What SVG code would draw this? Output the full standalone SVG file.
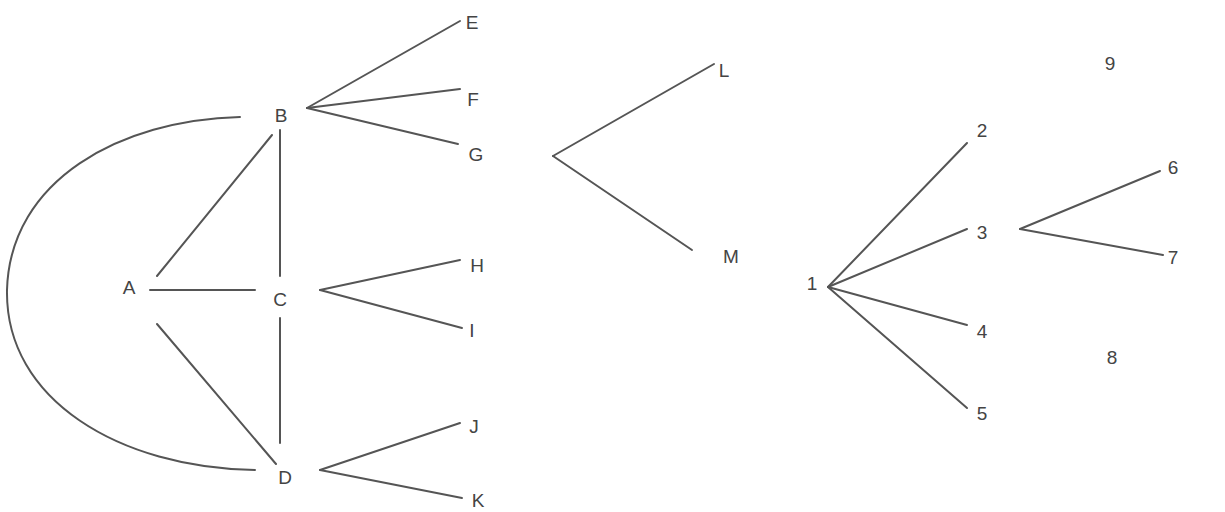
<svg xmlns="http://www.w3.org/2000/svg" width="1225" height="512" viewBox="0 0 1225 512">
<style>
.e{stroke:#555;stroke-width:2;fill:none;stroke-linecap:round}
text{font-family:"Liberation Sans",Arial,sans-serif;font-size:19px;fill:#444;text-anchor:middle}
</style>
<rect width="1225" height="512" fill="#fff"/>
<g id="connectors">
<path class="e" d="M240,117 C120,120 10,180 7,290 C5,400 120,468 255,470"/>
<line class="e" x1="157" y1="276" x2="272" y2="135"/>
<line class="e" x1="280" y1="130" x2="280" y2="276"/>
<line class="e" x1="280" y1="318" x2="280" y2="443"/>
<line class="e" x1="150" y1="290" x2="255" y2="290"/>
<line class="e" x1="157" y1="324" x2="276" y2="464"/>
<line class="e" x1="307" y1="108" x2="460" y2="21"/>
<line class="e" x1="307" y1="108" x2="460" y2="89"/>
<line class="e" x1="307" y1="108" x2="458" y2="144"/>
<line class="e" x1="320" y1="290" x2="460" y2="260"/>
<line class="e" x1="320" y1="290" x2="462" y2="328"/>
<line class="e" x1="320" y1="470" x2="460" y2="423"/>
<line class="e" x1="320" y1="470" x2="462" y2="498"/>
<line class="e" x1="553" y1="156" x2="714" y2="64"/>
<line class="e" x1="553" y1="156" x2="692" y2="250"/>
<line class="e" x1="828" y1="287" x2="967" y2="143"/>
<line class="e" x1="828" y1="287" x2="967" y2="229"/>
<line class="e" x1="828" y1="287" x2="967" y2="325"/>
<line class="e" x1="828" y1="287" x2="967" y2="408"/>
<line class="e" x1="1020" y1="229" x2="1160" y2="171"/>
<line class="e" x1="1020" y1="229" x2="1163" y2="255"/>
</g>
<g id="A"><text x="129" y="294">A</text></g>
<g id="B"><text x="281" y="122">B</text></g>
<g id="C"><text x="280" y="306">C</text></g>
<g id="D"><text x="285" y="484">D</text></g>
<g id="E"><text x="472" y="29">E</text></g>
<g id="F"><text x="473" y="106">F</text></g>
<g id="G"><text x="476" y="161">G</text></g>
<g id="H"><text x="477" y="272">H</text></g>
<g id="I"><text x="472" y="337">I</text></g>
<g id="J"><text x="474" y="433">J</text></g>
<g id="K"><text x="478" y="507">K</text></g>
<g id="L"><text x="724" y="77">L</text></g>
<g id="M"><text x="731" y="263">M</text></g>
<g id="n1"><text x="812" y="290">1</text></g>
<g id="n2"><text x="982" y="137">2</text></g>
<g id="n3"><text x="982" y="239">3</text></g>
<g id="n4"><text x="982" y="338">4</text></g>
<g id="n5"><text x="982" y="420">5</text></g>
<g id="n6"><text x="1173" y="174">6</text></g>
<g id="n7"><text x="1173" y="264">7</text></g>
<g id="n8"><text x="1112" y="364">8</text></g>
<g id="n9"><text x="1110" y="70">9</text></g>
</svg>
